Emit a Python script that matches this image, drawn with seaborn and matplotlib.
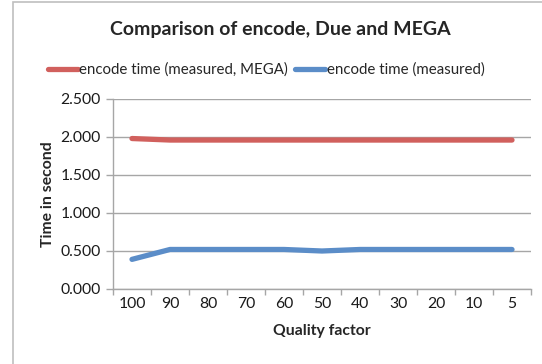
import matplotlib
matplotlib.use("Agg")
import matplotlib.pyplot as plt
import seaborn as sns
import pandas as pd
from matplotlib.patches import Rectangle
from matplotlib.lines import Line2D

quality = ["100", "90", "80", "70", "60", "50", "40", "30", "20", "10", "5"]
mega = [1.98, 1.96, 1.96, 1.96, 1.96, 1.96, 1.96, 1.96, 1.96, 1.96, 1.96]
measured = [0.39, 0.52, 0.52, 0.52, 0.52, 0.50, 0.52, 0.52, 0.52, 0.52, 0.52]
series_names = ["encode time (measured, MEGA)", "encode time (measured)"]
y_ticks = [0.0, 0.5, 1.0, 1.5, 2.0, 2.5]

sns.set_theme(style="white")
plt.rcParams['font.family'] = ['Lato', 'DejaVu Sans']

df = pd.DataFrame({
    "pos": list(range(len(quality))) * 2,
    "value": mega + measured,
    "series": [series_names[0]] * len(quality) + [series_names[1]] * len(quality),
})

colors = {series_names[0]: "#D1605D", series_names[1]: "#5B8DC8"}

fig = plt.figure(figsize=(5.42, 3.64), dpi=100)
fig.patch.set_facecolor("white")
fig.patches.append(Rectangle((13 / 542, -0.1), 1.2, 1 - 2 / 364 + 0.1,
                             transform=fig.transFigure, fill=False,
                             edgecolor="#BFBFBF", linewidth=1.2))
ax = fig.add_axes([113 / 542, 1 - 289 / 364, (531 - 113) / 542, (289 - 99) / 364])

sns.lineplot(data=df, x="pos", y="value", hue="series", palette=colors,
             linewidth=3.8, ax=ax, legend=False, solid_capstyle="round",
             zorder=3)

fs = 11.3
ax.set_xlim(-0.5, len(quality) - 0.5)
ax.set_ylim(0, 2.5)
ax.set_yticks(y_ticks)
ax.set_yticklabels([f"{v:.3f}" for v in y_ticks], fontsize=fs, color="#1a1a1a")
ax.set_xticks(range(len(quality)))
ax.set_xticklabels(quality, fontsize=fs, color="#1a1a1a")
ax.set_xticks([i - 0.5 for i in range(len(quality) + 1)], minor=True)
ax.tick_params(axis="x", which="major", length=0, pad=6)
ax.tick_params(axis="x", which="minor", length=4, width=1, color="#A6A6A6",
               direction="out", bottom=True)
ax.tick_params(axis="y", which="major", length=5, width=1, color="#A6A6A6",
               direction="out", left=True, pad=4)
ax.grid(axis="y", color="#A6A6A6", linewidth=1)
ax.set_axisbelow(True)
for s in ["top", "right"]:
    ax.spines[s].set_visible(False)
for s in ["left", "bottom"]:
    ax.spines[s].set_color("#A6A6A6")
    ax.spines[s].set_linewidth(1)

ax.set_xlabel("Quality factor", fontsize=fs, fontweight="bold", labelpad=9)
ax.set_ylabel("Time in second", fontsize=fs, fontweight="bold", labelpad=4)

fig.text(280 / 542, 1 - 30 / 364, "Comparison of encode, Due and MEGA",
         ha="center", va="center", fontsize=14, fontweight="bold")

handles = [Line2D([], [], color=colors[n], linewidth=3.8, solid_capstyle="round")
           for n in series_names]
fig.legend(handles, series_names, loc="center", bbox_to_anchor=(266 / 542, 1 - 70 / 364),
           ncol=2, frameon=False, fontsize=10.8, handlelength=2.0, handletextpad=0.1,
           columnspacing=0.5, borderaxespad=0)

fig.savefig("out.png", dpi=100, facecolor="white")
